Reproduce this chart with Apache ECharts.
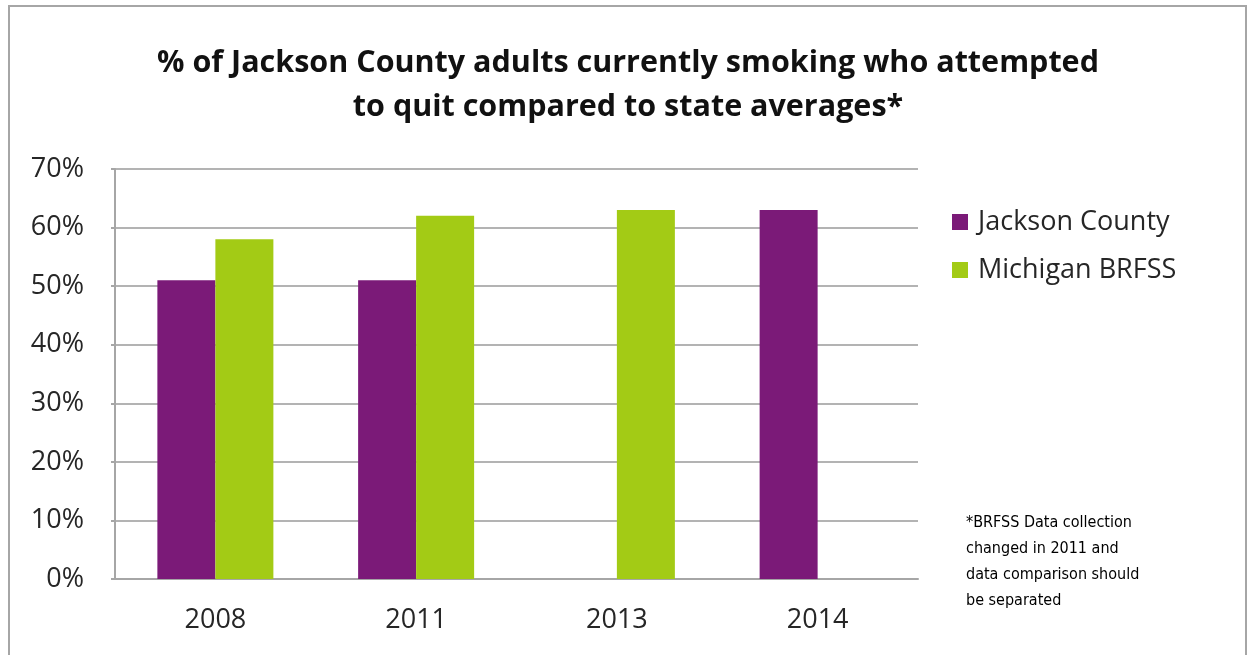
<!DOCTYPE html>
<html>
<head>
<meta charset="utf-8">
<script src="https://cdn.jsdelivr.net/npm/echarts@6/dist/echarts.min.js"></script>
<style>
  html, body { margin: 0; padding: 0; background: #ffffff; }
  #chart { width: 1248px; height: 655px; }
</style>
</head>
<body>
<div id="chart"></div>
<script>
// Survey years on the category axis
const years = ['2008', '2011', '2013', '2014'];
// Share of current smokers who attempted to quit (%), null where no survey value
const jacksonCounty = [51, 51, null, 63];
const michiganBRFSS = [58, 62, 63, null];
// Value axis range and step (%)
const yMin = 0;
const yMax = 70;
const yStep = 10;

const titleText = '% of Jackson County adults currently smoking who attempted\nto quit compared to state averages*';
const noteLines = [
  '*BRFSS Data collection',
  'changed in 2011 and',
  'data comparison should',
  'be separated'
];

const chart = echarts.init(document.getElementById('chart'), null, { renderer: 'canvas' });

const labelFont = '"Open Sans", "Noto Sans", sans-serif';

chart.setOption({
  backgroundColor: '#ffffff',
  animation: false,
  title: {
    text: titleText,
    left: 628,
    top: 41,
    textAlign: 'center',
    padding: 0,
    textStyle: {
      fontFamily: labelFont,
      fontWeight: 'bold',
      fontSize: 30.5,
      lineHeight: 44,
      color: '#111111'
    }
  },
  legend: {
    orient: 'vertical',
    left: 952,
    top: 207,
    padding: 0,
    icon: 'rect',
    itemWidth: 16,
    itemHeight: 16,
    itemGap: 18,
    textStyle: {
      fontFamily: labelFont,
      fontSize: 27,
      lineHeight: 30,
      color: '#262626',
      padding: [0, 0, 0, 5]
    },
    data: ['Jackson County', 'Michigan BRFSS']
  },
  grid: {
    left: 115,
    right: 330,
    top: 169,
    bottom: 76,
    containLabel: false
  },
  xAxis: {
    type: 'category',
    data: years,
    axisLine: { show: true, lineStyle: { color: '#a6a6a6', width: 2 } },
    axisTick: { show: false },
    axisLabel: {
      margin: 28,
      fontFamily: labelFont,
      fontSize: 27,
      color: '#262626'
    }
  },
  yAxis: {
    type: 'value',
    min: yMin,
    max: yMax,
    interval: yStep,
    axisLine: { show: true, lineStyle: { color: '#a6a6a6', width: 2 } },
    axisTick: { show: true, length: 4, lineStyle: { color: '#a6a6a6', width: 2 } },
    splitLine: { show: true, lineStyle: { color: '#b3b3b3', width: 2 } },
    axisLabel: {
      margin: 31,
      formatter: '{value}%',
      fontFamily: labelFont,
      fontSize: 27,
      color: '#262626'
    }
  },
  series: [
    {
      name: 'Jackson County',
      type: 'bar',
      data: jacksonCounty,
      barWidth: 58,
      barGap: '0%',
      itemStyle: { color: '#7b1a78' }
    },
    {
      name: 'Michigan BRFSS',
      type: 'bar',
      data: michiganBRFSS,
      barWidth: 58,
      barGap: '0%',
      itemStyle: { color: '#a3cb15' }
    }
  ],
  graphic: [
    {
      type: 'rect',
      silent: true,
      shape: { x: 9, y: 6, width: 1237, height: 670 },
      style: { fill: null, stroke: '#a6a6a6', lineWidth: 2 }
    },
    {
      type: 'text',
      left: 966,
      top: 510,
      style: {
        text: noteLines.join('\n'),
        fontFamily: '"Liberation Sans Narrow", "DejaVu Sans Condensed", sans-serif',
        fontSize: 16,
        lineHeight: 26,
        fill: '#000000'
      }
    }
  ]
});
</script>
</body>
</html>
